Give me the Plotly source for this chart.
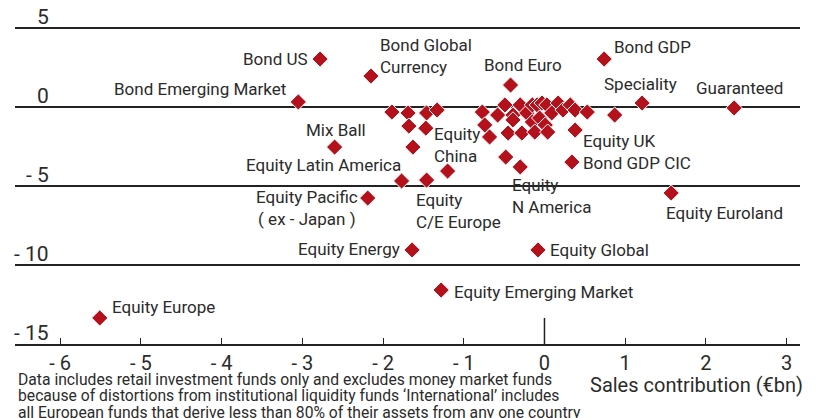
import plotly.graph_objects as go

# ---- data ----
label_names = [
    "Bond US", "Bond Global<br>Currency", "Bond Emerging Market", "Bond Euro",
    "Bond GDP", "Speciality", "Guaranteed", "Mix Ball", "Equity Latin America",
    "Equity<br>C/E Europe", "Equity<br>China", "Equity Pacific<br>( ex - Japan )",
    "Equity<br>N America", "Equity UK", "Bond GDP CIC", "Equity Euroland",
    "Equity Energy", "Equity Global", "Equity Emerging Market", "Equity Europe",
]
label_x = [-2.78, -2.15, -3.05, -0.42, 0.74, 1.21, 2.35, -2.60, -1.77,
           -1.46, -1.20, -2.19, -0.30, 0.38, 0.34, 1.57, -1.64, -0.08, -1.28, -5.51]
label_y = [3.06, 1.98, 0.34, 1.41, 3.06, 0.27, -0.04, -2.52, -4.67,
           -4.61, -4.04, -5.75, -3.78, -1.44, -3.47, -5.43, -9.04, -9.04, -11.58, -13.35]

other_x = [-1.89, -1.69, -1.46, -1.33, -1.68, -1.47, -1.63, -0.77, -0.74, -0.68,
           -0.58, -0.49, -0.48, -0.45, -0.39, -0.39, -0.30, -0.28, -0.22, -0.15,
           -0.15, -0.12, -0.09, -0.06, -0.03, 0.01, 0.03, 0.04, 0.09, 0.17,
           0.23, 0.32, 0.38, 0.53, 0.87]
other_y = [-0.30, -0.36, -0.36, -0.17, -1.19, -1.32, -2.52, -0.30, -1.12, -1.88,
           -0.49, 0.15, -3.15, -1.63, -0.49, -0.80, 0.15, -1.63, -0.36, 0.15,
           -0.93, -1.57, 0.15, -0.68, 0.27, -1.12, 0.15, -1.57, -0.36, 0.27,
           -0.17, 0.15, -0.17, -0.30, -0.49]

x_ticks = [-6, -5, -4, -3, -2, -1, 0, 1, 2, 3]
x_ticktext = ["- 6", "- 5", "- 4", "- 3", "- 2", "- 1", "0", "1", "2", "3"]
y_ticks = [5, 0, -5, -10, -15]
y_ticktext = ["5", "0", "- 5", "- 10", "- 15"]

x_title = "Sales contribution (€bn)"
footnote = [
    "Data includes retail investment funds only and excludes money market funds",
    "because of distortions from institutional liquidity funds ‘International’ includes",
    "all European funds that derive less than 80% of their assets from any one country",
]

# ---- styling ----
FONT = "Roboto, 'Liberation Sans', sans-serif"
RED = "#b3121c"
TXT = "#2b2b2b"

# label placement: (xanchor, xshift, yshift, align)
label_pos = {
    "Bond US": ("right", -10, 0, "right"),
    "Bond Global<br>Currency": ("left", 7, 20, "left"),
    "Bond Emerging Market": ("right", -10, 13, "right"),
    "Bond Euro": ("center", 12, 20, "center"),
    "Bond GDP": ("left", 8, 12, "left"),
    "Speciality": ("center", -2, 19, "center"),
    "Guaranteed": ("center", 5, 20, "center"),
    "Mix Ball": ("center", 1, 17, "center"),
    "Equity Latin America": ("right", 1, 16, "right"),
    "Equity<br>C/E Europe": ("left", -13, -31, "left"),
    "Equity<br>China": ("left", -16, 26, "left"),
    "Equity Pacific<br>( ex - Japan )": ("right", -8, -10, "center"),
    "Equity<br>N America": ("left", -10, -29, "left"),
    "Equity UK": ("left", 6, -11, "left"),
    "Bond GDP CIC": ("left", 9, -1, "left"),
    "Equity Euroland": ("left", -7, -20, "left"),
    "Equity Energy": ("right", -10, 1, "right"),
    "Equity Global": ("left", 10, 0, "left"),
    "Equity Emerging Market": ("left", 11, -2, "left"),
    "Equity Europe": ("left", 10, 11, "left"),
}

fig = go.Figure()
marker = dict(symbol="diamond", size=12.5, color=RED, line=dict(color="white", width=1))
fig.add_trace(go.Scatter(x=other_x, y=other_y, mode="markers", marker=marker,
                         hoverinfo="skip", showlegend=False))
fig.add_trace(go.Scatter(x=label_x, y=label_y, mode="markers", marker=marker,
                         text=label_names, hoverinfo="text", showlegend=False))

annotations = []
for name, xv, yv in zip(label_names, label_x, label_y):
    xa, xs, ys, al = label_pos[name]
    annotations.append(dict(x=xv, y=yv, xref="x", yref="y", text=name, showarrow=False,
                            xanchor=xa, yanchor="middle", xshift=xs, yshift=ys, align=al,
                            font=dict(family=FONT, size=17, color=TXT)))

for v, t in zip(y_ticks, y_ticktext):
    annotations.append(dict(x=0, xref="paper", y=v, yref="y", text=t, showarrow=False,
                            xanchor="right", yanchor="bottom", xshift=36, yshift=-3,
                            font=dict(family=FONT, size=21, color=TXT)))

annotations.append(dict(x=1, xref="paper", y=0, yref="paper", text=x_title, showarrow=False,
                        xanchor="right", yanchor="middle", xshift=5, yshift=-41,
                        font=dict(family=FONT, size=20, color=TXT)))
for i, line in enumerate(footnote):
    annotations.append(dict(x=0, xref="paper", y=0, yref="paper", text=line, showarrow=False,
                            xanchor="left", yanchor="middle", xshift=1, yshift=-35 - 16.5 * i,
                            font=dict(family=FONT, size=15.7, color=TXT)))

fig.add_shape(type="line", x0=0, x1=0, y0=-15, y1=-13.35, xref="x", yref="y",
              line=dict(color="#222", width=1.5))

fig.update_layout(
    width=825, height=418,
    margin=dict(l=15, r=25, t=0, b=74),
    paper_bgcolor="white", plot_bgcolor="white",
    font=dict(family=FONT, color=TXT),
    annotations=annotations,
    xaxis=dict(range=[-6.56, 3.166], tickvals=x_ticks, ticktext=x_ticktext,
               showgrid=False, zeroline=False, showline=True, linecolor="#222", linewidth=1.5,
               ticks="inside", ticklen=6, tickcolor="#222", tickwidth=1,
               tickfont=dict(family=FONT, size=20, color=TXT)),
    yaxis=dict(range=[-15, 6.8], tickvals=y_ticks[:-1], showticklabels=False,
               showgrid=True, gridcolor="#222", gridwidth=1.5, zeroline=False,
               showline=False),
)

fig.write_html("out.html")
